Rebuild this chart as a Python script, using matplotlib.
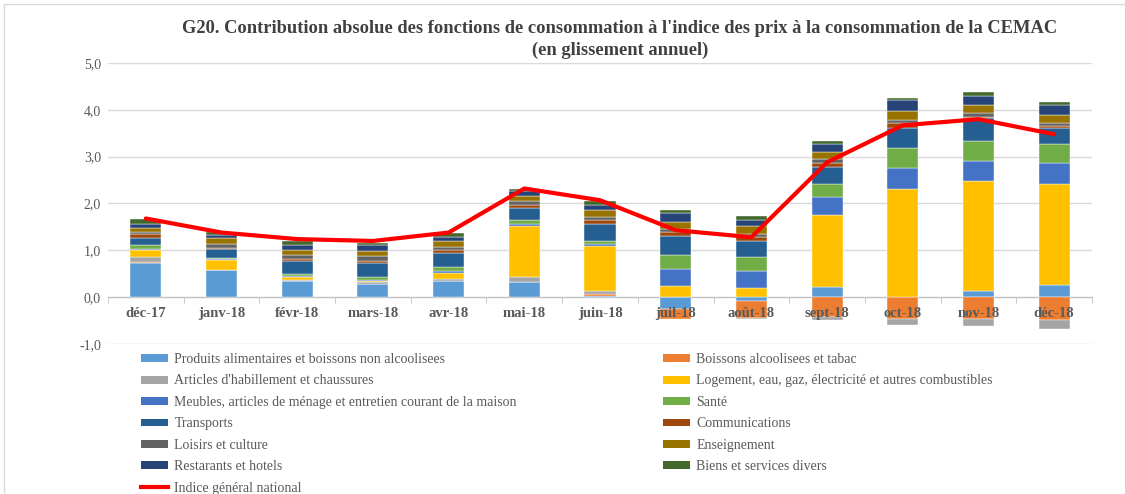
import matplotlib.pyplot as plt
from matplotlib.patches import Patch, Rectangle
from matplotlib.lines import Line2D
from matplotlib.ticker import FixedLocator, FuncFormatter
import numpy as np

mois = ['déc-17', 'janv-18', 'févr-18', 'mars-18', 'avr-18', 'mai-18', 'juin-18',
        'juil-18', 'août-18', 'sept-18', 'oct-18', 'nov-18', 'déc-18']

alimentaires = [0.72, 0.59, 0.34, 0.28, 0.34, 0.33, 0.035, -0.26, -0.085, 0.22, 0.01, 0.135, 0.26]
boissons = [0.035, 0.0, 0.0, 0.0, 0.0, 0.0, 0.035, -0.2, -0.37, -0.42, -0.47, -0.475, -0.49]
habillement = [0.1, 0.0, 0.035, 0.05, 0.04, 0.09, 0.055, 0.0, -0.02, -0.06, -0.12, -0.14, -0.2]
logement = [0.16, 0.21, 0.05, 0.01, 0.135, 1.1, 0.96, 0.23, 0.2, 1.54, 2.3, 2.34, 2.15]
meubles = [0.02, 0.01, 0.03, 0.035, 0.035, 0.04, 0.04, 0.37, 0.35, 0.375, 0.45, 0.44, 0.45]
sante = [0.085, 0.02, 0.05, 0.065, 0.09, 0.08, 0.08, 0.3, 0.3, 0.28, 0.42, 0.425, 0.4]
transports = [0.14, 0.19, 0.27, 0.28, 0.3, 0.26, 0.355, 0.4, 0.35, 0.375, 0.44, 0.48, 0.35]
communications = [0.085, 0.035, 0.05, 0.055, 0.07, 0.07, 0.08, 0.085, 0.085, 0.085, 0.1, 0.035, 0.05]
loisirs = [0.04, 0.07, 0.07, 0.1, 0.07, 0.085, 0.08, 0.08, 0.07, 0.065, 0.07, 0.07, 0.065]
enseignement = [0.1, 0.13, 0.11, 0.12, 0.12, 0.1, 0.14, 0.15, 0.155, 0.155, 0.19, 0.17, 0.155]
restaurants = [0.085, 0.07, 0.11, 0.11, 0.085, 0.11, 0.11, 0.18, 0.14, 0.17, 0.23, 0.21, 0.23]
biens_divers = [0.09, 0.065, 0.085, 0.06, 0.085, 0.05, 0.08, 0.07, 0.08, 0.07, 0.05, 0.08, 0.06]

indice = [1.68, 1.38, 1.24, 1.2, 1.38, 2.32, 2.07, 1.43, 1.28, 2.88, 3.67, 3.8, 3.48]

noms = ['Produits alimentaires et boissons non alcoolisees',
        'Boissons alcoolisees et tabac',
        "Articles d'habillement et chaussures",
        'Logement, eau, gaz, électricité et autres combustibles',
        'Meubles, articles de ménage et entretien courant de la maison',
        'Santé', 'Transports', 'Communications', 'Loisirs et culture',
        'Enseignement', 'Restarants et hotels', 'Biens et services divers']
series = [alimentaires, boissons, habillement, logement, meubles, sante, transports,
          communications, loisirs, enseignement, restaurants, biens_divers]
couleurs = ['#5B9BD5', '#ED7D31', '#A5A5A5', '#FFC000', '#4472C4', '#70AD47',
            '#255E91', '#9E480E', '#636363', '#997300', '#264478', '#43682B']

serif = 'Liberation Serif'
gris = '#595959'

fig = plt.figure(figsize=(11.25, 4.94), dpi=100)
ax = fig.add_axes([108/1125, 1-344/494, (1092-108)/1125, (344-63)/494])

x = np.arange(len(mois))
pos = np.zeros(len(mois))
neg = np.zeros(len(mois))
for vals, c in zip(series, couleurs):
    v = np.array(vals)
    bas = np.where(v >= 0, pos, neg)
    ax.bar(x, v, 0.41, bottom=bas, color=c, edgecolor='white', linewidth=0.3, zorder=3)
    pos += np.where(v >= 0, v, 0)
    neg += np.where(v < 0, v, 0)

ax.plot(x, indice, color='#FF0000', lw=3, zorder=4, solid_capstyle='round')

ax.set_xlim(-0.5, len(mois)-0.5)
ax.set_ylim(-1, 5)
ax.set_yticks(np.arange(-1, 5.1, 1))
ax.yaxis.set_major_formatter(FuncFormatter(lambda v, p: ('%.1f' % v).replace('.', ',')))
ax.grid(axis='y', color='#D9D9D9', lw=1, zorder=0)
for s in ['top', 'right', 'left']:
    ax.spines[s].set_visible(False)
ax.spines['bottom'].set_position(('data', 0))
ax.spines['bottom'].set_color('#BFBFBF')
ax.spines['bottom'].set_zorder(2)
ax.tick_params(axis='y', length=0, labelsize=10, labelcolor=gris, pad=5)
ax.set_xticks(x)
ax.set_xticklabels([])
ax.xaxis.set_minor_locator(FixedLocator(np.arange(-0.5, len(mois), 1)))
ax.tick_params(axis='x', which='major', length=0)
ax.tick_params(axis='x', which='minor', length=4, color='#BFBFBF')
for t in ax.get_yticklabels():
    t.set_family(serif)

# etiquettes des mois au-dessus des barres (comme dans Excel)
for i, m in enumerate(mois):
    ax.text(i, -0.34, m, ha='center', va='center', fontsize=10.5, fontweight='bold',
            color=gris, family=serif, zorder=10)

fig.text(0.551, 1-28.5/494, "G20. Contribution absolue des fonctions de consommation à l'indice des prix à la consommation de la CEMAC",
         ha='center', va='center', fontsize=13.3, fontweight='bold', family=serif, color='#404040')
fig.text(0.551, 1-50/494, "(en glissement annuel)",
         ha='center', va='center', fontsize=13.3, fontweight='bold', family=serif, color='#404040')

h = [Patch(facecolor=c, label=n) for c, n in zip(couleurs, noms)]
h_ind = Line2D([], [], color='#FF0000', lw=3, label='Indice général national')
gauche = h[0::2] + [h_ind]
droite = h[1::2]
kw = dict(frameon=False, prop={'family': serif, 'size': 10}, labelcolor=gris,
          handlelength=1.95, handleheight=0.5, handletextpad=0.45, labelspacing=0.61,
          borderaxespad=0, borderpad=0, loc='upper left')
fig.legend(handles=gauche, bbox_to_anchor=(141/1125, 1-353/494), **kw)
fig.legend(handles=droite, bbox_to_anchor=(663/1125, 1-353/494), **kw)

fig.add_artist(Rectangle((4/1125, -0.05), 1.0, 1-4/494+0.05, transform=fig.transFigure,
                         fill=False, edgecolor='#D9D9D9', lw=1))

fig.savefig('out.png', dpi=100)
